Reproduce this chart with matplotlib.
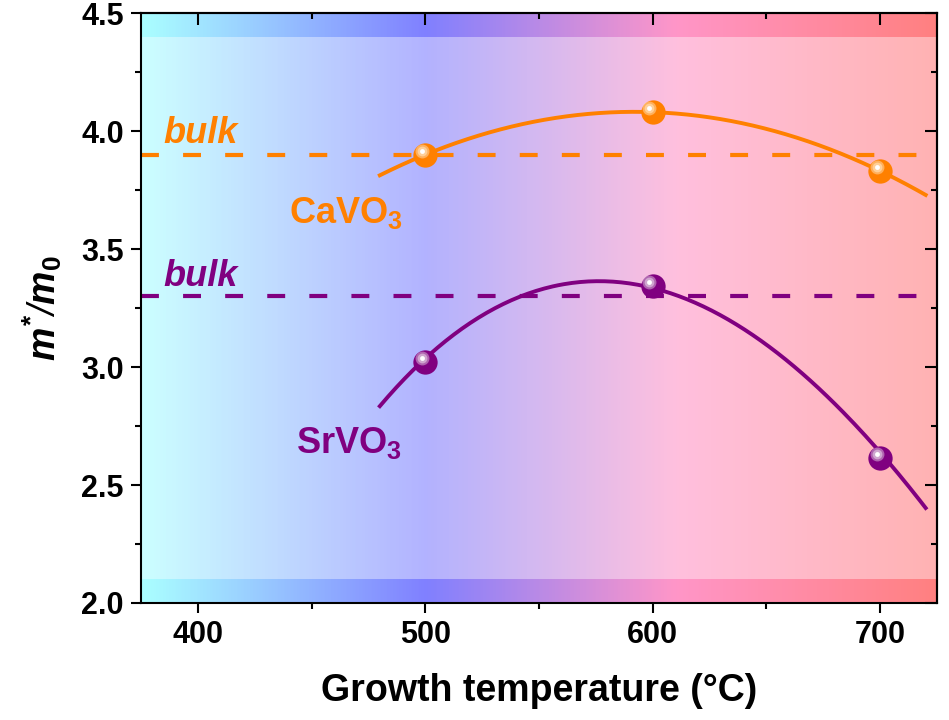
import numpy as np
import matplotlib
matplotlib.use("Agg")
from matplotlib import pyplot as plt
from matplotlib import transforms as mtransforms
from matplotlib.colors import LinearSegmentedColormap
from matplotlib.ticker import MultipleLocator

plt.rcParams["font.family"] = ["Liberation Sans", "DejaVu Sans"]
plt.rcParams["font.weight"] = "bold"
plt.rcParams["mathtext.fontset"] = "custom"
plt.rcParams["mathtext.rm"] = "Liberation Sans:bold"
plt.rcParams["mathtext.bf"] = "Liberation Sans:bold"
plt.rcParams["mathtext.it"] = "Liberation Sans:bold:italic"

# effective mass vs growth temperature
temps = [500, 600, 700]
cavo3_mass = [3.90, 4.08, 3.83]
srvo3_mass = [3.02, 3.345, 2.615]
cavo3_bulk = 3.90
srvo3_bulk = 3.30

# trend lines, sampled along the fitted curves
fit_temps = [480, 500, 520, 540, 560, 580, 600, 620, 640, 660, 680, 700, 720]
cavo3_fit = [3.812, 3.900, 3.970, 4.024, 4.060, 4.078, 4.080, 4.064, 4.032, 3.982, 3.914, 3.830, 3.730]
srvo3_fit = [2.855, 3.020, 3.175, 3.280, 3.345, 3.375, 3.350, 3.285, 3.170, 3.010, 2.820, 2.615, 2.430]

xticks = [400, 500, 600, 700]
yticks = [2.0, 2.5, 3.0, 3.5, 4.0, 4.5]

orange = "#FF8000"
purple = "#800080"

fig = plt.figure(figsize=(9.49, 7.2), dpi=100)
ax = fig.add_axes([0.1486, 0.1625, 0.8388, 0.8194])

xmin, xmax = 375, 725
ymin, ymax = 2.0, 4.5

# temperature colour background
bg = LinearSegmentedColormap.from_list(
    "growth",
    [(0.0, "#AAFFFF"), (125 / 350, "#8080FF"), (235 / 350, "#FF96C8"), (1.0, "#FF8080")],
)
grad = np.linspace(0, 1, 512).reshape(1, -1)
ax.imshow(grad, extent=(xmin, xmax, 2.1, 4.4), aspect="auto", cmap=bg, alpha=0.6, zorder=0)
ax.imshow(grad, extent=(xmin, xmax, 4.4, 4.5), aspect="auto", cmap=bg, zorder=0)
ax.imshow(grad, extent=(xmin, xmax, 2.0, 2.1), aspect="auto", cmap=bg, zorder=0)

# bulk reference values
ax.axhline(cavo3_bulk, color=orange, lw=3, dashes=(4.3, 5.8), zorder=2)
ax.axhline(srvo3_bulk, color=purple, lw=3, dashes=(4.3, 5.8), zorder=2)

# smooth polynomial through the sampled trend
xs = np.linspace(fit_temps[0], fit_temps[-1], 200)
ax.plot(xs, np.polyval(np.polyfit(fit_temps, cavo3_fit, 2), xs), "-", color=orange, lw=2.8, zorder=3)
ax.plot(xs, np.polyval(np.polyfit(fit_temps, srvo3_fit, 3), xs), "-", color=purple, lw=2.8, zorder=3)


def shaded_points(x, y, color, light):
    ax.plot(x, y, "o", ms=17.5, color=color, mec="none", zorder=4)
    shift = ax.transData + mtransforms.ScaledTranslation(-0.035, 0.04, fig.dpi_scale_trans)
    ax.plot(x, y, "o", ms=10, color=light, mec="none", alpha=0.55, transform=shift, zorder=5)
    ax.plot(x, y, "o", ms=7, color=light, mec="none", alpha=0.8, transform=shift, zorder=5)
    ax.plot(x, y, "o", ms=3.5, color="white", mec="none", transform=shift, zorder=6)


shaded_points(temps, cavo3_mass, orange, "#FFD8A8")
shaded_points(temps, srvo3_mass, purple, "#D8B8D8")

ax.text(385, 3.948, "bulk", color=orange, fontsize=26, fontstyle="italic", fontweight="bold")
ax.text(385, 3.344, "bulk", color=purple, fontsize=26, fontstyle="italic", fontweight="bold")
ax.text(440, 3.61, "CaVO$_3$", color=orange, fontsize=26, fontweight="bold")
ax.text(443, 2.634, "SrVO$_3$", color=purple, fontsize=26, fontweight="bold")

ax.set_xlim(xmin, xmax)
ax.set_ylim(ymin, ymax)
ax.set_xticks(xticks)
ax.set_yticks(yticks)
ax.set_yticklabels(["{:.1f}".format(v) for v in yticks])
ax.xaxis.set_minor_locator(MultipleLocator(50))
ax.yaxis.set_minor_locator(MultipleLocator(0.25))
ax.tick_params(which="major", direction="out", length=7.5, width=1.5, labelsize=22, pad=5)
ax.tick_params(which="minor", direction="out", length=4, width=1.5)
for sp in ax.spines.values():
    sp.set_linewidth(1.5)

# inward ticks on the top and right edges
top = ax.secondary_xaxis("top")
top.set_xticks(xticks)
top.xaxis.set_minor_locator(MultipleLocator(50))
top.tick_params(which="major", direction="in", length=8.5, width=1.5, labeltop=False)
top.tick_params(which="minor", direction="in", length=4.5, width=1.5)
right = ax.secondary_yaxis("right")
right.set_yticks(yticks)
right.yaxis.set_minor_locator(MultipleLocator(0.25))
right.tick_params(which="major", direction="in", length=8.5, width=1.5, labelright=False)
right.tick_params(which="minor", direction="in", length=4.5, width=1.5)
for a in (top, right):
    for sp in a.spines.values():
        sp.set_linewidth(1.5)

ax.set_xlabel("Growth temperature (°C)", fontsize=27, fontweight="bold", labelpad=16)
ax.set_ylabel(r"$\mathit{m}^{*}$/$\mathit{m}_{\mathit{0}}$", fontsize=27, fontstyle="italic", labelpad=12)

fig.savefig("out.png", dpi=100)
